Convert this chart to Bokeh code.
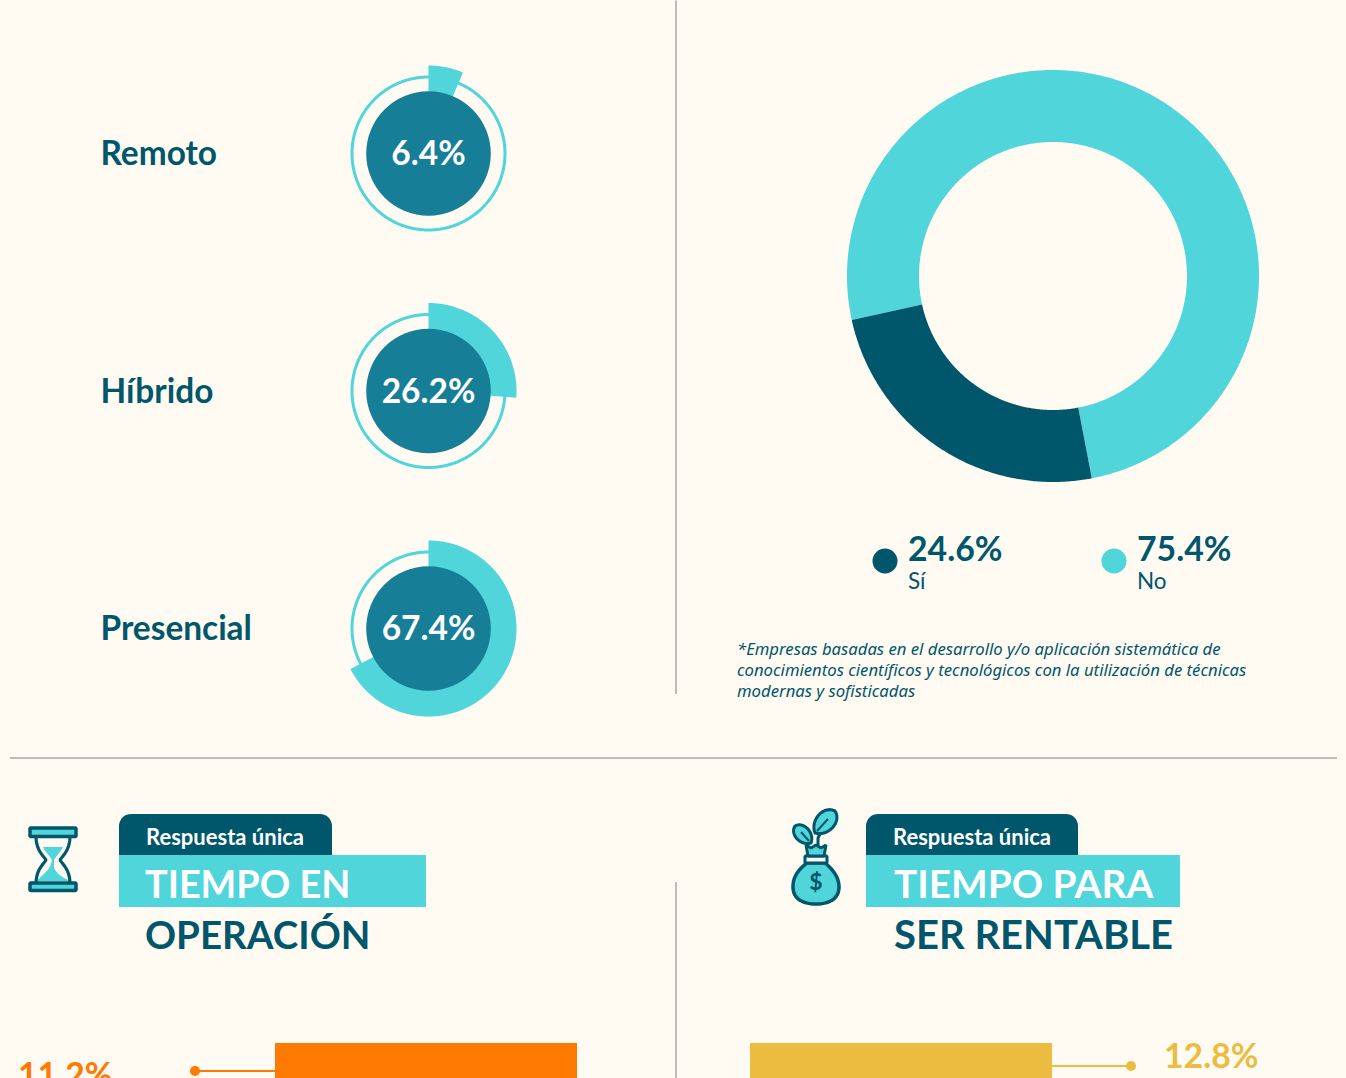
import numpy as np
from bokeh.plotting import figure
from bokeh.models import Range1d
from bokeh.core.properties import value
from bokeh.embed import file_html
from bokeh.resources import INLINE

# ---- data ----
modes = ["Remoto", "Híbrido", "Presencial"]
mode_values = [6.4, 26.2, 67.4]
share_labels = ["Sí", "No"]
share_values = [24.6, 75.4]
note_lines = [
    "*Empresas basadas en el desarrollo y/o aplicación sistemática de",
    "conocimientos científicos y tecnológicos con la utilización de técnicas",
    "modernas y sofisticadas",
]
tab_label = "Respuesta única"
operation_title = ["TIEMPO EN", "OPERACIÓN"]
profit_title = ["TIEMPO PARA", "SER RENTABLE"]
operation_first = 11.2
profit_first = 12.8

# ---- style ----
BG, CYAN, DARK, MID = "#FFFBF3", "#4FD5DA", "#00566A", "#177E97"
ORANGE, YELLOW, GREY = "#FF7A00", "#EBBC3F", "#BDBDB8"
FONT = "Lato"
W, H = 1346, 1078
BASE = 0.41  # bokeh's svg text offset for the alphabetic baseline, per px of font size

p = figure(width=W, height=H, output_backend="svg", toolbar_location=None,
           x_range=Range1d(0.5, W + 0.5), y_range=Range1d(H + 0.5, 0.5), min_border=0,
           background_fill_color=BG, border_fill_color=BG, outline_line_color=None)
p.axis.visible = False
p.grid.visible = False
p.styles = {"margin": "0"}


def label(x, y, s, size, color, style="bold", align="left", font=FONT):
    p.text([x], [y - BASE * size], text=[s], text_font=value(font), text_font_size=f"{size}px",
           text_font_style=style, text_color=color, text_align=align,
           text_baseline="alphabetic")


def ring_sector(cx, cy, r0, r1, a0, a1, color):
    """Angles in degrees, clockwise from twelve o'clock."""
    t = np.radians(np.linspace(a0, a1, max(int(abs(a1 - a0) * 2), 2)))
    xs = np.r_[cx + r1 * np.sin(t), cx + r0 * np.sin(t[::-1])]
    ys = np.r_[cy - r1 * np.cos(t), cy - r0 * np.cos(t[::-1])]
    p.patch(xs, ys, fill_color=color, line_color=None)


def cubic(P0, P1, P2, P3, n=16):
    t = np.linspace(0, 1, n)[:, None]
    a, b, c, d = map(np.array, (P0, P1, P2, P3))
    return (1-t)**3*a + 3*(1-t)**2*t*b + 3*(1-t)*t**2*c + t**3*d


def leaf(base, tip, bulge):
    b, t = np.array(base, float), np.array(tip, float)
    d = t - b
    n = np.array([-d[1], d[0]]) * bulge
    c = np.vstack([cubic(b, b + 0.2*d + n, b + 0.9*d + n, t), cubic(t, b + 0.9*d - n, b + 0.2*d - n, b)])
    p.patch(c[:, 0], c[:, 1], fill_color=CYAN, line_color=DARK, line_width=3, line_join="round")


# rules
p.line([676, 676], [0, 694], line_color=GREY, line_width=2)
p.line([676, 676], [882, H + 1], line_color=GREY, line_width=2)
p.line([10, 1337], [758, 758], line_color=GREY, line_width=2)

# gauges
for name, v, cy in zip(modes, mode_values, [153.5, 391, 628.5]):
    cx = 428.5
    ring_sector(cx, cy, 75, 78, 0, 360, CYAN)
    ring_sector(cx, cy, 60, 88, 0, v * 3.6, CYAN)
    p.circle([cx], [cy], radius=62.3, fill_color=MID, line_color=None)
    label(cx, cy + 12.5, f"{v}%", 33.5, "#FFFFFF", align="center")
    label(100.5, cy + 12.5, name, 33.4, DARK)

# donut
cx, cy, start = 1053, 276, 257.7
no_end = start + share_values[1] * 3.6
ring_sector(cx, cy, 134, 206, start, no_end, CYAN)
ring_sector(cx, cy, 134, 206, no_end, no_end + share_values[0] * 3.6, DARK)

for lab, v, x, col in zip(share_labels, share_values, [885, 1114], [DARK, CYAN]):
    p.circle([x], [561], radius=12.5, fill_color=col, line_color=None)
    label(x + 23, 561.5, f"{v}%", 33.8, DARK)
    label(x + 23, 589.5, lab, 22.5, DARK, style="normal")

for i, s in enumerate(note_lines):
    label(737, 655 + i * 21, s, 16.7, DARK, style="italic", font="Noto Sans")


# titles
def title(x0, x1_tab, x1_band, tx, lines, size0, size1):
    r = 12
    t = np.radians(np.linspace(0, 90, 10))
    xs = np.r_[x0, x0 + r - r * np.cos(t), x1_tab - r + r * np.sin(t), x1_tab]
    ys = np.r_[856, 814 + r - r * np.sin(t), 814 + r - r * np.cos(t), 856]
    p.patch(xs, ys, fill_color=DARK, line_color=None)
    p.quad(left=[x0], right=[x1_band], top=[855], bottom=[907], fill_color=CYAN, line_color=None)
    label(x0 + 27, 845.5, tab_label, 22, "#FFFFFF")
    label(tx, 899, lines[0], size0, "#FFFFFF")
    label(tx, 950, lines[1], size1, DARK)


title(119, 332, 426, 145, operation_title, 37.8, 38.5)
title(866, 1078, 1180, 894, profit_title, 38.8, 40)

# hourglass icon
p.quad(left=[30], right=[76], top=[828], bottom=[836.5], fill_color=CYAN, line_color=DARK, line_width=3.5)
p.quad(left=[30], right=[76], top=[883], bottom=[890.5], fill_color=CYAN, line_color=DARK, line_width=3.5)
sand = np.vstack([[[43, 847], [63, 847]], cubic((63, 847), (60, 853), (56, 856), (54, 860)),
                  cubic((54, 868), (57, 875), (66, 879), (70, 881), 8),
                  [[37, 881]], cubic((37, 881), (42, 874), (50, 872), (52, 860), 8),
                  cubic((52, 860), (50, 856), (46, 853), (43, 847), 8)])
p.patch(sand[:, 0], sand[:, 1], fill_color=CYAN, line_color=None)
for sgn in (-1, 1):
    c1 = cubic((53 + sgn*17, 838), (53 + sgn*16, 850), (53 + sgn*12, 853), (53 + sgn*7, 860))
    c2 = cubic((53 + sgn*7, 860), (53 + sgn*12, 867), (53 + sgn*16, 870), (53 + sgn*17, 882))
    c = np.vstack([c1, c2])
    p.line(c[:, 0], c[:, 1], line_color=DARK, line_width=3.2)

# money bag icon
p.line([818, 818, 822], [846, 838, 830], line_color=DARK, line_width=3)
leaf((811, 843), (795, 826), 0.42)
leaf((815, 833), (835, 811), 0.42)
p.line([809, 801], [841, 832], line_color=DARK, line_width=2)
p.line([817, 828], [831, 819], line_color=DARK, line_width=2)
bag = np.vstack([cubic((807, 863), (795, 872), (793, 880), (793, 887)),
                 cubic((793, 887), (793, 899), (803, 904), (816, 904)),
                 cubic((816, 904), (829, 904), (839, 899), (839, 887)),
                 cubic((839, 887), (839, 880), (836, 872), (825, 863))])
p.patch(bag[:, 0], bag[:, 1], fill_color=CYAN, line_color=DARK, line_width=3.5)
p.quad(left=[805], right=[827], top=[856], bottom=[863], fill_color=BG, line_color=DARK, line_width=3)
p.patch([806, 811, 816, 821, 826, 824, 808], [845, 848, 845, 848, 845, 856, 856],
        fill_color=CYAN, line_color=DARK, line_width=3)
label(816, 890, "$", 23, DARK, align="center")

# bars cut by the lower edge of the picture
px_per_point = 5
for v, x0, col, tx, dot, lead_y, txt_y in [
        (operation_first, 275, ORANGE, 18, 195, 1071, 1088),
        (profit_first, 750, YELLOW, 1164, 1131, 1066, 1069)]:
    p.quad(left=[x0], right=[x0 + 302], top=[1043], bottom=[1043 + v * px_per_point],
           fill_color=col, line_color=None)
    far = x0 if dot < x0 else x0 + 302
    p.line([dot, far], [lead_y, lead_y], line_color=col, line_width=2)
    p.circle([dot], [lead_y], radius=5, fill_color=col, line_color=None)
    label(tx, txt_y, f"{v}%", 33.8, col)

html = file_html(p, INLINE)
html = html.replace("</head>", f"<style>html,body{{margin:0;padding:0;background:{BG};overflow:hidden}}</style></head>", 1)
open("out.html", "w").write(html)
